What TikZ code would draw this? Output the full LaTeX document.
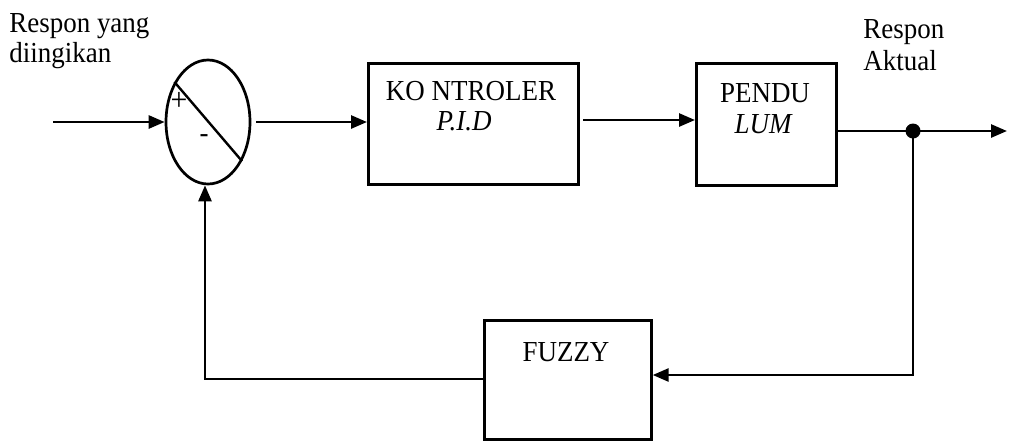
\documentclass[tikz,border=0pt]{standalone}
\usepackage{fontspec}
\setmainfont{Liberation Serif}[FakeStretch=0.93]
\usetikzlibrary{arrows.meta,shapes.geometric}
\begin{document}
\begin{tikzpicture}[x=1pt,y=-1pt,
  line width=2.7pt,
  arr/.style={-{Triangle[length=16pt,width=13pt]}},
  blk/.style={draw,rectangle,inner sep=0pt,anchor=north west},
  lbl/.style={font=\fontsize{29}{33}\selectfont,inner sep=0pt}]
\useasboundingbox (0,0) rectangle (1009,440);
% blocks
\node[draw,ellipse,minimum width=84pt,minimum height=124pt,inner sep=0pt] (sum) at (208,122) {};
\node[blk,minimum width=210pt,minimum height=121pt] (pid) at (367,62) {};
\node[blk,minimum width=140pt,minimum height=122pt] (pend) at (695,62) {};
\node[blk,minimum width=167pt,minimum height=119pt] (fuzzy) at (483,319) {};
% summing junction marks
\draw[line width=2.4pt] (sum.130) -- (sum.-49);
\node[inner sep=0pt,font=\fontsize{32}{32}\selectfont] (plus) at (179,101) {+};
\node[inner sep=0pt,font=\fontsize{29}{29}\selectfont] (minus) at (204,139) {-};
% texts
\node[lbl,anchor=base west] (l1) at (8,32) {Respon yang};
\node[lbl,anchor=base west] (l2) at (8,62) {diingikan};
\node[lbl,anchor=base west] (r1) at (862,38) {Respon};
\node[lbl,anchor=base west] (r2) at (862,70) {Aktual};
\node[lbl,anchor=base] (t1) at (471,100) {KO NTROLER};
\node[lbl,anchor=base] (t2) at (464,130) {\itshape P.I.D};
\node[lbl,anchor=base] (t3) at (765,102) {PENDU};
\node[lbl,anchor=base] (t4) at (763,133) {\itshape LUM};
\node[lbl,anchor=base] (t5) at (566,361) {FUZZY};
% connectors
\coordinate (in) at (53,122);
\draw[arr] (in) -- (sum.west);
\coordinate (m1) at (256,122);
\draw[arr] (m1) -- (m1 -| pid.west);
\coordinate (m2) at (583,120);
\draw[arr] (m2) -- (m2 -| pend.west);
\coordinate (tap) at (913,131);
\coordinate (out) at (1007,131);
\draw[arr] (tap -| pend.east) -- (out);
\fill (tap) circle (7.5pt);
\coordinate (fb) at (913,375);
\draw[arr] (tap) -- (fb) -- (fb -| fuzzy.east);
\coordinate (fl) at (205,379);
\draw[arr] (fl -| fuzzy.west) -- (fl) -- (fl |- sum.south);
\end{tikzpicture}
\end{document}
